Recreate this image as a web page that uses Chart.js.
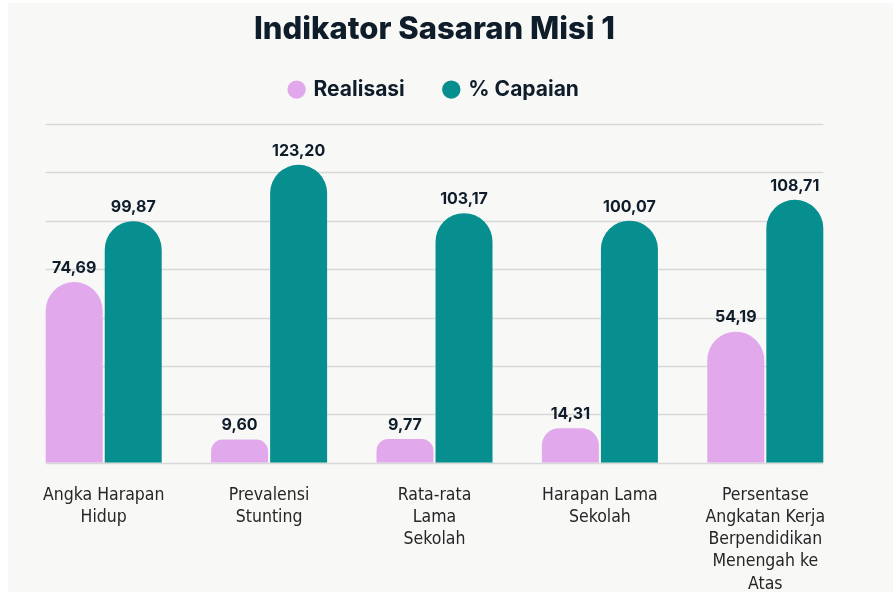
<!DOCTYPE html>
<html lang="id">
<head>
<meta charset="UTF-8">
<title>Indikator Sasaran Misi 1</title>
<script src="https://cdn.jsdelivr.net/npm/chart.js"></script>
<style>
  html, body { margin: 0; padding: 0; background: #ffffff; }
  #wrap { width: 893px; height: 592px; position: relative; }
</style>
</head>
<body>
<div id="wrap"><canvas id="grafik"></canvas></div>
<script>
// data
var kategori = [
  ['Angka Harapan', 'Hidup'],
  ['Prevalensi', 'Stunting'],
  ['Rata-rata', 'Lama', 'Sekolah'],
  ['Harapan Lama', 'Sekolah'],
  ['Persentase', 'Angkatan Kerja', 'Berpendidikan', 'Menengah ke', 'Atas']
];
var realisasi = [74.69, 9.60, 9.77, 14.31, 54.19];
var capaian = [99.87, 123.20, 103.17, 100.07, 108.71];
var tickY = [0, 20, 40, 60, 80, 100, 120, 140];

var warnaPink = '#e1a9ec';
var warnaTeal = '#078e8e';
var warnaTeks = '#0f1d2b';

// latar abu muda
var latar = {
  id: 'latar',
  beforeDraw: function (chart) {
    var ctx = chart.ctx;
    ctx.save();
    ctx.fillStyle = '#f8f8f7';
    ctx.fillRect(8, 3, chart.width - 8, chart.height - 3);
    ctx.restore();
  }
};

// garis grid hanya selebar batang
var garisGrid = {
  id: 'garisGrid',
  beforeDatasetsDraw: function (chart) {
    var ctx = chart.ctx;
    var y = chart.scales.y;
    var a = chart.getDatasetMeta(0).data[0];
    var b = chart.getDatasetMeta(1).data[capaian.length - 1];
    var kiri = a.x - a.width / 2;
    var kanan = b.x + b.width / 2;
    ctx.save();
    ctx.strokeStyle = '#d8d8d8';
    ctx.lineWidth = 1.5;
    tickY.forEach(function (v) {
      var py = Math.round(y.getPixelForValue(v)) + 0.5;
      ctx.beginPath();
      ctx.moveTo(kiri, py);
      ctx.lineTo(kanan, py);
      ctx.stroke();
    });
    ctx.restore();
  }
};

// label nilai di atas batang
var labelNilai = {
  id: 'labelNilai',
  afterDatasetsDraw: function (chart) {
    var ctx = chart.ctx;
    ctx.save();
    ctx.font = 'bold 16px Inter, "Open Sans", sans-serif';
    ctx.fillStyle = warnaTeks;
    ctx.textAlign = 'center';
    ctx.textBaseline = 'middle';
    chart.data.datasets.forEach(function (ds, i) {
      chart.getDatasetMeta(i).data.forEach(function (bar, j) {
        var teks = ds.data[j].toFixed(2).replace('.', ',');
        ctx.fillText(teks, bar.x, bar.y - 14);
      });
    });
    ctx.restore();
  }
};

// atur tinggi legenda
var aturLegenda = {
  id: 'aturLegenda',
  beforeInit: function (chart) {
    var fitAsli = chart.legend.fit;
    chart.legend.fit = function () {
      fitAsli.call(this);
      this.height = 85;
    };
  }
};

var ctx = document.getElementById('grafik').getContext('2d');
var grafik = new Chart(ctx, {
  type: 'bar',
  data: {
    labels: kategori,
    datasets: [{
      label: 'Realisasi',
      data: realisasi,
      backgroundColor: warnaPink,
      borderRadius: { topLeft: 40, topRight: 40 },
      borderSkipped: false,
      barPercentage: 0.965,
      categoryPercentage: 0.714
    }, {
      label: '% Capaian',
      data: capaian,
      backgroundColor: warnaTeal,
      borderRadius: { topLeft: 40, topRight: 40 },
      borderSkipped: false,
      barPercentage: 0.965,
      categoryPercentage: 0.714
    }]
  },
  options: {
    responsive: true,
    maintainAspectRatio: false,
    animation: false,
    layout: { padding: { left: 21, right: 45, top: 0, bottom: -25 } },
    plugins: {
      title: {
        display: true,
        text: 'Indikator Sasaran Misi 1',
        color: warnaTeks,
        font: { family: 'Inter, "Open Sans", sans-serif', size: 31, weight: 800, lineHeight: 1.1 },
        padding: { top: 13, bottom: -8 }
      },
      legend: {
        display: true,
        labels: {
          usePointStyle: true,
          pointStyle: 'circle',
          boxWidth: 13,
          boxHeight: 13,
          padding: 40,
          color: warnaTeks,
          font: { family: 'Inter, "Open Sans", sans-serif', size: 21, weight: 'bold' }
        }
      },
      tooltip: { enabled: false }
    },
    scales: {
      x: {
        grid: { display: false, drawTicks: false },
        border: { display: false },
        ticks: {
          color: '#262626',
          padding: 22,
          maxRotation: 0,
          autoSkip: false,
          font: { family: '"DejaVu Sans Condensed", "Liberation Sans Narrow", sans-serif', size: 17.5, lineHeight: 1.26 }
        }
      },
      y: {
        display: false,
        min: 0,
        max: 140,
        ticks: { stepSize: 20 }
      }
    }
  },
  plugins: [latar, garisGrid, labelNilai, aturLegenda]
});
</script>
</body>
</html>
